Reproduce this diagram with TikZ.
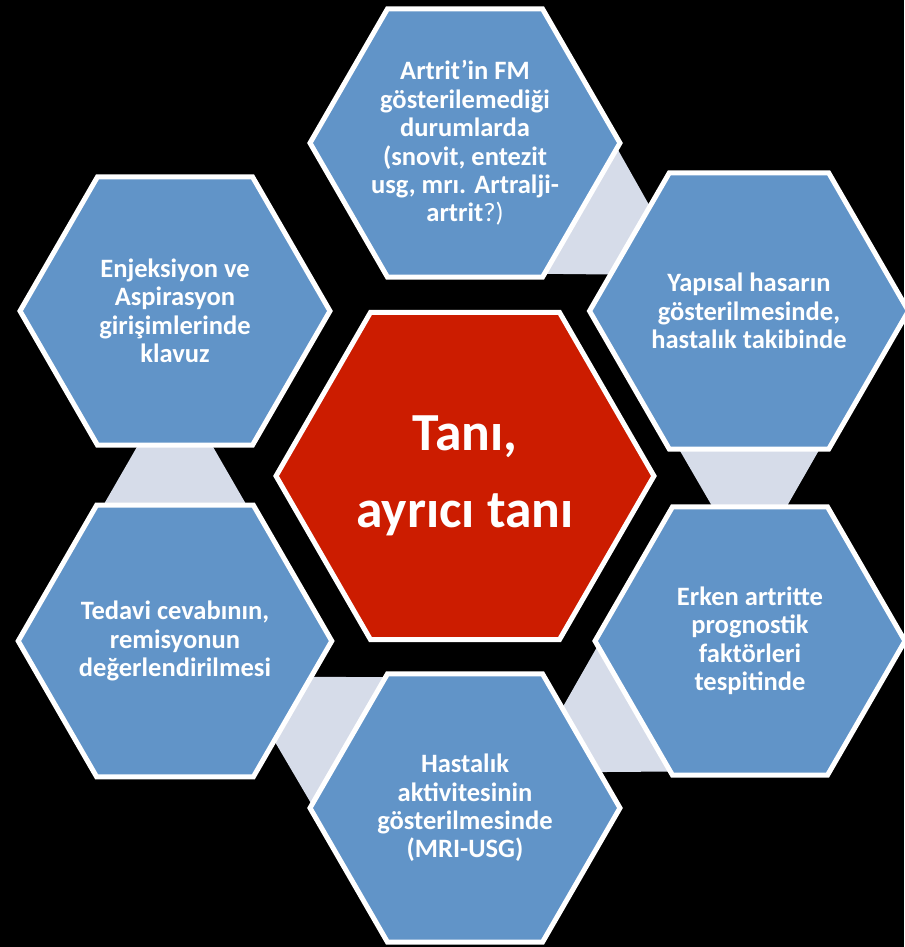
\documentclass[tikz,border=0pt]{standalone}
\usepackage{fontspec}
\setmainfont{Carlito}
\usepackage{xcolor}
\usepackage{tikz}
\usetikzlibrary{shapes,positioning,calc,backgrounds}
\definecolor{hexblue}{RGB}{97,148,200}
\definecolor{hexred}{RGB}{204,28,0}
\definecolor{linkgray}{RGB}{214,220,233}

\begin{document}
\begin{tikzpicture}[x=0.02cm,y=0.02cm,
  hexa/.style={regular polygon,regular polygon sides=6,inner sep=0pt,minimum size=6.2cm,
    draw=white,line width=0.1cm,fill=hexblue,text=white,align=center,
    font=\bfseries\fontsize{15.1}{16.2}\selectfont},
  core/.style={hexa,minimum size=7.56cm,fill=hexred,font=\bfseries\fontsize{30.5}{44}\selectfont},
  link/.style={fill=linkgray}]
\useasboundingbox (-465,-471) rectangle (439,476);
\node[core] (tani) at (0,0) {Tanı,\\ayrıcı tanı};
\node[hexa] (fm) at (0,333) {Artrit’in FM\\gösterilemediği\\durumlarda\\(snovit, entezit\\usg, mrı. Artralji-\\artrit{\mdseries ?)}};
\node[hexa] (yapi) at (284,165) {Yapısal hasarın\\gösterilmesinde,\\hastalık takibinde};
\node[hexa] (erken) at (285,-165) {Erken artritte\\prognostik\\faktörleri\\tespitinde};
\node[hexa] (aktif) at (0,-332) {Hastalık\\aktivitesinin\\gösterilmesinde\\(MRI-USG)};
\node[hexa] (tedavi) at (-290,-165) {Tedavi cevabının,\\remisyonun\\değerlendirilmesi};
\node[hexa] (enj) at (-290,165) {Enjeksiyon ve\\Aspirasyon\\girişimlerinde\\klavuz};

\begin{pgfonlayer}{background}
\fill[black] (-465,-471) rectangle (439,476);
\foreach \s/\e in {fm/yapi,yapi/erken,erken/aktif,aktif/tedavi,tedavi/enj}
  \fill[link] ($(\s.center)!0.788!(\e.center)$) -- ($(\s.center)!3cm!90:(\e.center)$)
    -- ($(\s.center)!3cm!-90:(\e.center)$) -- cycle;
\end{pgfonlayer}
\end{tikzpicture}
\end{document}
